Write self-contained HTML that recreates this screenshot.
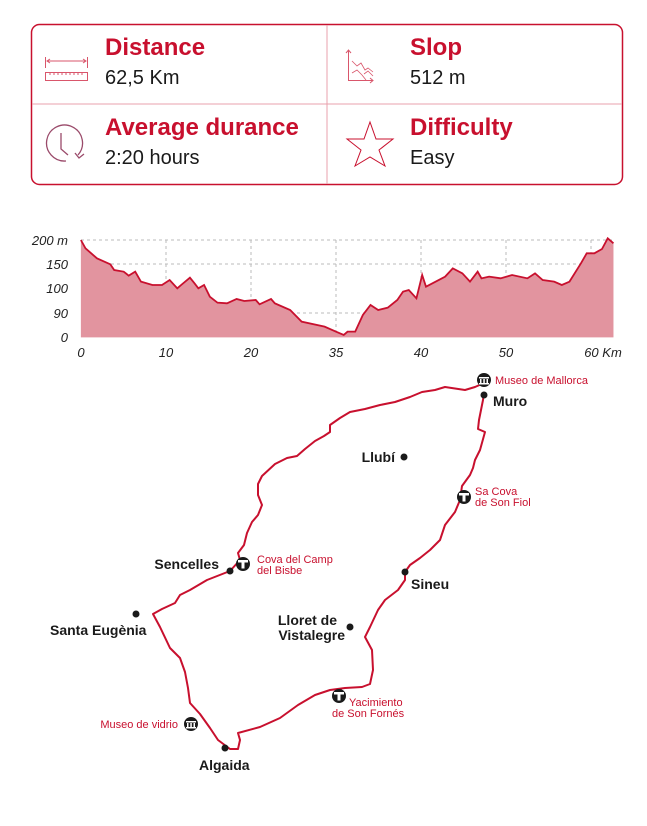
<!DOCTYPE html>
<html><head><meta charset="utf-8"><style>
body{margin:0;width:647px;height:821px;background:#fff;overflow:hidden;font-family:"Liberation Sans",sans-serif}
</style></head><body>
<svg width="647" height="821" viewBox="0 0 647 821" xmlns="http://www.w3.org/2000/svg" font-family="Liberation Sans, sans-serif">
<rect x="31.5" y="24.5" width="591" height="160" rx="8" fill="none" stroke="#c8102e" stroke-width="1.5"/>
<line x1="327" y1="25" x2="327" y2="184" stroke="#e8a0ac" stroke-width="1"/>
<line x1="32" y1="104" x2="622" y2="104" stroke="#e8a0ac" stroke-width="1"/>
<g fill="#c8102e" font-weight="bold" font-size="24">
<text x="105" y="55">Distance</text><text x="410" y="55">Slop</text>
<text x="105" y="135">Average durance</text><text x="410" y="135">Difficulty</text>
</g>
<g fill="#1a1a1a" font-size="20">
<text x="105" y="84">62,5 Km</text><text x="410" y="84">512 m</text>
<text x="105" y="164">2:20 hours</text><text x="410" y="164">Easy</text>
</g>
<g stroke="#d9566b" fill="none" stroke-width="1">
<line x1="45.5" y1="57" x2="45.5" y2="68"/><line x1="87.5" y1="57" x2="87.5" y2="68"/><line x1="47" y1="61" x2="86" y2="61"/>
<path d="M50 59 L47 61 L50 63 M83 59 L86 61 L83 63"/>
<rect x="45.5" y="72.5" width="42" height="8"/>
<path d="M50 72v3M54 72v3M58 72v3M62 72v3M66 72v3M70 72v3M74 72v3M78 72v3M82 72v3"/>
<path d="M348.5 50 V80.5 H373 M346 53 L348.5 50 L351 53 M370 78 L373 80.5 L370 83"/>
<path d="M352 61 L357 66 L361 63 L365 70 L368 68 L373 72 M352 73 L357 70 L362 75 L366 80 M364 74 L368 71 L373 76" stroke-width="0.8"/>
<path d="M370 122 L376 139 L393 139 L379 150 L385 166 L370 157 L355 166 L361 150 L347 139 L364 139 Z" stroke="#c8102e"/>
</g>
<g stroke="#9a4a6a" fill="none" stroke-width="1.3">
<path d="M78 155 A18 18 0 1 0 66 161" />
<path d="M75 153 L79 158 L84 154"/>
<path d="M61 133 V149 L68 155"/>
</g>
<g stroke="#bbb" stroke-dasharray="3,3" stroke-width="1">
<line x1="81" y1="240" x2="613" y2="240"/><line x1="81" y1="264" x2="613" y2="264"/>
<line x1="81" y1="313" x2="613" y2="313"/>
<line x1="166" y1="240" x2="166" y2="337"/><line x1="251" y1="240" x2="251" y2="337"/>
<line x1="336" y1="240" x2="336" y2="337"/><line x1="421" y1="240" x2="421" y2="337"/>
<line x1="506" y1="240" x2="506" y2="337"/><line x1="591" y1="240" x2="591" y2="337"/>
</g>
<g transform="translate(30,225) scale(0.3826,0.3333)">
<path d="M133 45 L145 70 L175 100 L210 118 L220 135 L245 140 L258 152 L275 140 L290 170 L320 180 L345 180 L365 165 L385 190 L395 180 L418 158 L430 175 L440 190 L455 180 L470 215 L490 233 L515 235 L540 222 L560 228 L590 225 L600 238 L630 222 L640 235 L680 255 L710 290 L770 305 L800 320 L820 330 L830 320 L850 320 L870 270 L890 240 L910 255 L935 248 L960 225 L975 200 L990 195 L1010 220 L1025 150 L1035 185 L1060 170 L1085 155 L1105 130 L1130 145 L1150 170 L1170 140 L1180 160 L1200 155 L1230 160 L1260 150 L1300 160 L1320 145 L1340 165 L1370 170 L1390 180 L1410 170 L1440 115 L1455 85 L1475 85 L1495 72 L1510 40 L1525 55 L1525 337 L133 337 Z" fill="#e2949f" stroke="none"/>
<path d="M133 45 L145 70 L175 100 L210 118 L220 135 L245 140 L258 152 L275 140 L290 170 L320 180 L345 180 L365 165 L385 190 L395 180 L418 158 L430 175 L440 190 L455 180 L470 215 L490 233 L515 235 L540 222 L560 228 L590 225 L600 238 L630 222 L640 235 L680 255 L710 290 L770 305 L800 320 L820 330 L830 320 L850 320 L870 270 L890 240 L910 255 L935 248 L960 225 L975 200 L990 195 L1010 220 L1025 150 L1035 185 L1060 170 L1085 155 L1105 130 L1130 145 L1150 170 L1170 140 L1180 160 L1200 155 L1230 160 L1260 150 L1300 160 L1320 145 L1340 165 L1370 170 L1390 180 L1410 170 L1440 115 L1455 85 L1475 85 L1495 72 L1510 40 L1525 55" fill="none" stroke="#c8102e" stroke-width="5" vector-effect="non-scaling-stroke" style="stroke-width:1.8"/>
</g>
<g font-size="13" font-style="italic" fill="#222">
<text x="68" y="245" text-anchor="end">200 m</text>
<text x="68" y="269" text-anchor="end">150</text>
<text x="68" y="293" text-anchor="end">100</text>
<text x="68" y="318" text-anchor="end">90</text>
<text x="68" y="342" text-anchor="end">0</text>
<text x="81" y="357" text-anchor="middle">0</text><text x="166" y="357" text-anchor="middle">10</text>
<text x="251" y="357" text-anchor="middle">20</text><text x="336" y="357" text-anchor="middle">35</text>
<text x="421" y="357" text-anchor="middle">40</text><text x="506" y="357" text-anchor="middle">50</text>
<text x="603" y="357" text-anchor="middle">60 Km</text>
</g>
<path d="M484 383 L475 387 L465 390 L445 387 L435 390 L422 392 L410 397 L395 402 L380 405 L365 409 L350 412 L340 418 L330 425 L330 432 L324 436 L315 441 L305 449 L297 456 L287 458 L275 464 L262 476 L258 484 L258 495 L262 505 L258 515 L252 522 L247 533 L244 545 L238 553 L240 560 L230 571 L207 580 L190 590 L180 595 L175 603 L162 609 L153 614 L160 627 L170 648 L180 658 L185 672 L188 688 L190 703 L200 714 L210 728 L218 740 L230 749 L238 749 L240 740 L238 733 L260 727 L280 718 L298 705 L315 695 L330 690 L345 688 L362 687 L370 684 L373 670 L372 650 L365 637 L370 627 L378 610 L385 600 L398 590 L405 580 L405 572 L410 565 L420 558 L430 550 L440 540 L445 525 L455 512 L460 500 L462 486 L470 475 L473 468 L475 460 L480 450 L485 432 L478 429 L479 420 L483 400 L484 392" fill="none" stroke="#c8102e" stroke-width="2" stroke-linejoin="round"/>
<g fill="#1a1a1a">
<circle cx="484" cy="395" r="3.5"/><circle cx="404" cy="457" r="3.5"/><circle cx="405" cy="572" r="3.5"/>
<circle cx="230" cy="571" r="3.5"/><circle cx="136" cy="614" r="3.5"/><circle cx="350" cy="627" r="3.5"/>
<circle cx="225" cy="748" r="3.5"/>
<circle cx="484" cy="380" r="7"/><circle cx="464" cy="497" r="7"/><circle cx="243" cy="564" r="7"/>
<circle cx="339" cy="696" r="7"/><circle cx="191" cy="724" r="7"/>
</g>
<g fill="#fff">
<rect x="479" y="377" width="10" height="1.5"/><rect x="480" y="379" width="1.5" height="4"/><rect x="483.3" y="379" width="1.5" height="4"/><rect x="486.5" y="379" width="1.5" height="4"/><rect x="479" y="383" width="10" height="1.5"/>
<rect x="186" y="721" width="10" height="1.5"/><rect x="187" y="723" width="1.5" height="4"/><rect x="190.3" y="723" width="1.5" height="4"/><rect x="193.5" y="723" width="1.5" height="4"/><rect x="186" y="727" width="10" height="1.5"/>
<path d="M459 493 h10 v2.5 h-3.5 v6 h-3 v-6 h-3.5z"/>
<path d="M238 560 h10 v2.5 h-3.5 v6 h-3 v-6 h-3.5z"/>
<path d="M334 692 h10 v2.5 h-3.5 v6 h-3 v-6 h-3.5z"/>
</g>
<g font-size="14" font-weight="bold" fill="#1a1a1a">
<text x="493" y="406">Muro</text>
<text x="395" y="462" text-anchor="end">Llubí</text>
<text x="411" y="589">Sineu</text>
<text x="219" y="569" text-anchor="end">Sencelles</text>
<text x="50" y="635">Santa Eugènia</text>
<text x="337" y="625" text-anchor="end">Lloret de</text>
<text x="345" y="640" text-anchor="end">Vistalegre</text>
<text x="199" y="770">Algaida</text>
</g>
<g font-size="11" fill="#c8102e">
<text x="495" y="384">Museo de Mallorca</text>
<text x="475" y="495">Sa Cova</text><text x="475" y="506">de Son Fiol</text>
<text x="257" y="563">Cova del Camp</text><text x="257" y="574">del Bisbe</text>
<text x="349" y="706">Yacimiento</text><text x="332" y="717">de Son Fornés</text>
<text x="178" y="728" text-anchor="end">Museo de vidrio</text>
</g>
</svg>
</body></html>
